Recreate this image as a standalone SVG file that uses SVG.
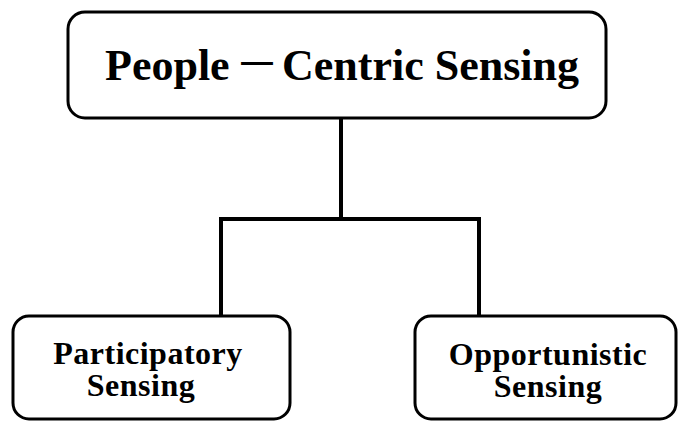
<svg xmlns="http://www.w3.org/2000/svg" width="678" height="421" viewBox="0 0 678 421">
  <style>
    .box { fill: #ffffff; stroke: #000000; stroke-width: 3; }
    .wire { fill: none; stroke: #000000; stroke-width: 4; stroke-linecap: square; }
    .label { font-family: "Liberation Serif", "Noto Sans CJK SC", serif; font-weight: bold; fill: #000000; }
    .title { font-size: 44px; }
    .sub { font-size: 32px; letter-spacing: 0.5px; text-anchor: middle; }
  </style>
  <rect width="678" height="421" fill="#ffffff"/>

  <g id="connectors">
    <path class="wire" d="M341 118 V219"/>
    <path class="wire" d="M221 316 V219 H479 V316"/>
  </g>

  <g id="node-root">
    <rect class="box" x="68" y="12" width="538" height="106" rx="17" ry="17"/>
    <text class="label title" y="80"><tspan x="105">People</tspan><tspan x="235" font-family="Noto Sans CJK SC, sans-serif" font-weight="normal">－</tspan><tspan x="282">Centric Sensing</tspan></text>
  </g>

  <g id="node-participatory">
    <rect class="box" x="13" y="316" width="277" height="103" rx="16" ry="16"/>
    <text class="label sub" x="148" y="364">Participatory</text>
    <text class="label sub" x="141" y="396">Sensing</text>
  </g>

  <g id="node-opportunistic">
    <rect class="box" x="415" y="316" width="261" height="103" rx="16" ry="16"/>
    <text class="label sub" x="548" y="365">Opportunistic</text>
    <text class="label sub" x="548" y="397">Sensing</text>
  </g>
</svg>
